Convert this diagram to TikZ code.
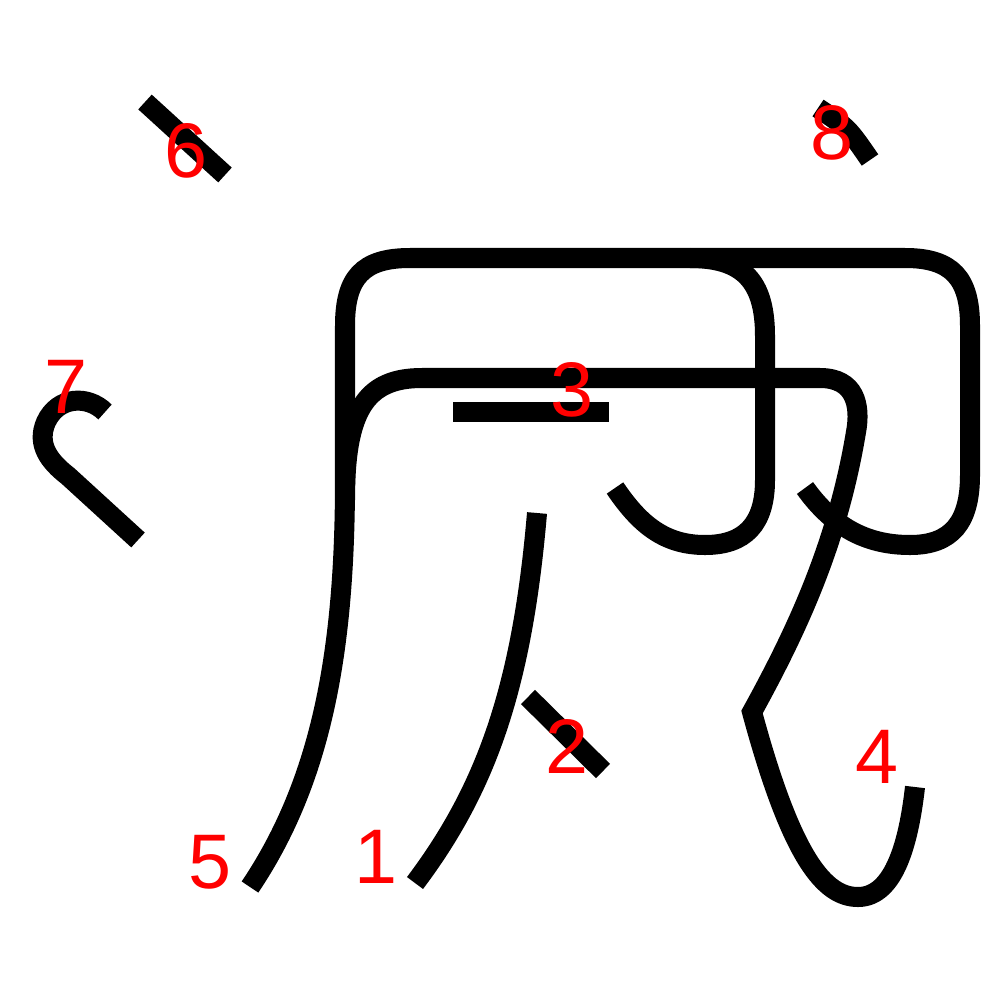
\documentclass[tikz,border=0pt]{standalone}
\usepackage{fontspec}
\setmainfont{Liberation Sans}
\tikzset{
  kstroke/.style={draw=black, line width=0.2cm, line cap=butt, line join=miter},
  strokenum/.style={text=red, font=\fontsize{22}{22}\selectfont, inner sep=0pt}
}
\begin{document}
\begin{tikzpicture}[x=0.01cm, y=-0.01cm]
    \useasboundingbox (0,0) rectangle (1000,1000);
    % strokes
    \draw[kstroke] (537,513) .. controls (522,690) and (485,790) .. (415,883);
    \draw[kstroke] (528,697) -- (603,771);
    \draw[kstroke] (453,412) -- (609,412);
    \draw[kstroke] (345,500) .. controls (345,410) and (366,378) .. (422,378) -- (820,378)
        .. controls (855,378) and (861,405) .. (856,432)
        .. controls (838,540) and (800,625) .. (752,712)
        .. controls (792,860) and (825,897) .. (858,897)
        .. controls (895,897) and (909,840) .. (915,787);
    \draw[kstroke] (805,488) .. controls (835,530) and (870,545) .. (910,545)
        .. controls (952,545) and (970,522) .. (970,475) -- (970,326)
        .. controls (970,278) and (952,258) .. (905,258) -- (410,258)
        .. controls (362,258) and (345,278) .. (345,326) -- (345,480)
        .. controls (345,650) and (322,780) .. (250,887);
    \draw[kstroke] (690,258) .. controls (742,258) and (765,280) .. (765,336) -- (765,480)
        .. controls (765,524) and (745,545) .. (705,545)
        .. controls (665,545) and (640,525) .. (615,488);
    \draw[kstroke] (145,102) -- (225,175);
    \draw[kstroke] (105,412) .. controls (88,395) and (58,396) .. (46,422)
        .. controls (36,445) and (50,462) .. (68,476) -- (138,540);
    \draw[kstroke] (818,108) .. controls (848,128) .. (870,160);
    % numbers
    \node[strokenum] (n1) at (376,857) {1};
    \node[strokenum] (n2) at (567,746) {2};
    \node[strokenum] (n3) at (572,390) {3};
    \node[strokenum] (n4) at (877,757) {4};
    \node[strokenum] (n5) at (210,862) {5};
    \node[strokenum] (n6) at (186,151) {6};
    \node[strokenum] (n7) at (66,387) {7};
    \node[strokenum] (n8) at (832,133) {8};
\end{tikzpicture}
\end{document}
